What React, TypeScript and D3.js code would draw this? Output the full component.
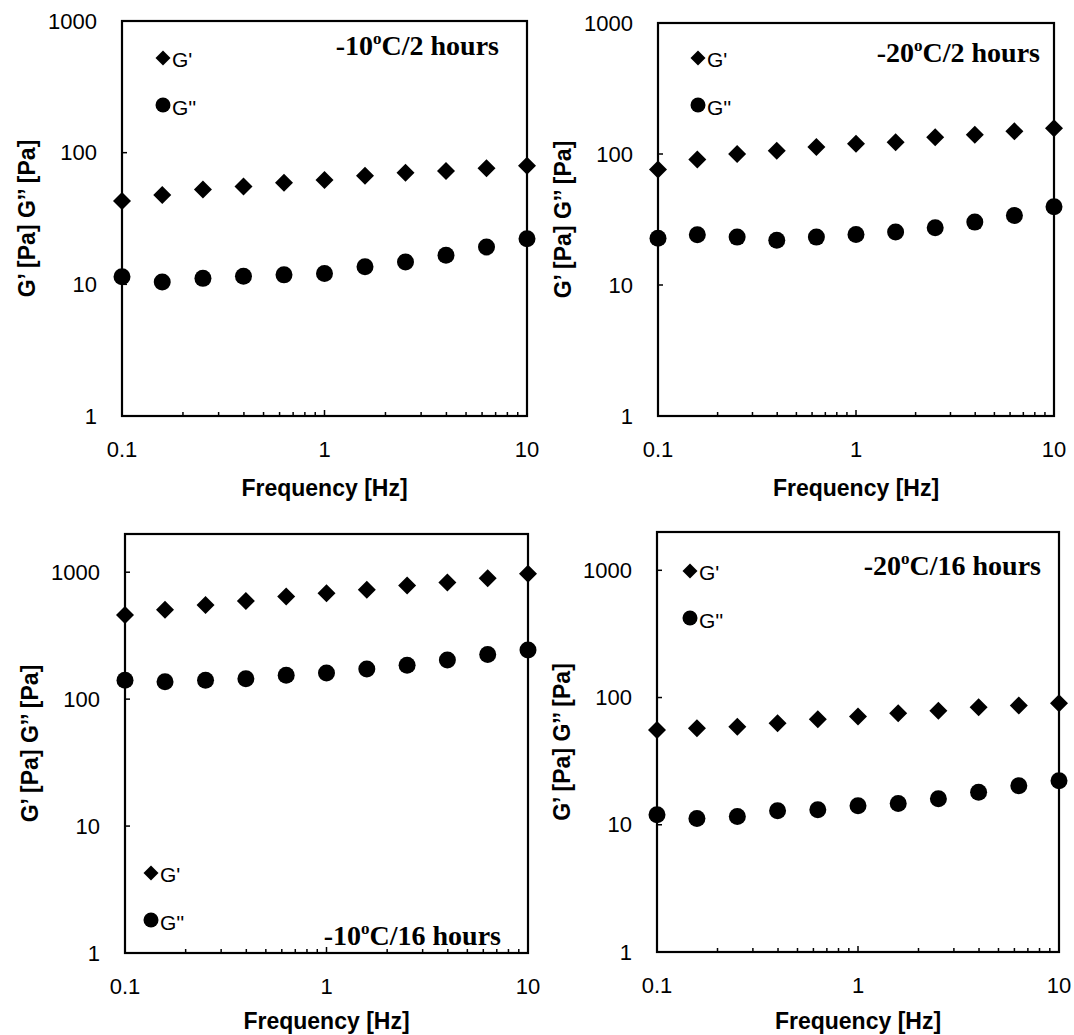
import { useEffect, useRef } from "react";
import * as d3 from "d3";

// Frequency sweep (Hz), five points per decade
const frequencies = [0.1, 0.158, 0.251, 0.398, 0.631, 1, 1.585, 2.512, 3.981, 6.31, 10];

// Storage modulus G' and loss modulus G'' (Pa) for each freezing condition
const gStorage10c2h = [43, 47.7, 52.4, 55.4, 59.1, 62, 66.8, 70.5, 72.6, 76, 79.6];
const gLoss10c2h = [11.4, 10.4, 11.1, 11.5, 11.8, 12.1, 13.6, 14.8, 16.6, 19.2, 22.2];
const gStorage20c2h = [76, 90.6, 100, 106, 113, 120, 123, 134, 140, 149, 157];
const gLoss20c2h = [22.7, 24.2, 23.2, 22.0, 23.2, 24.3, 25.4, 27.4, 30.2, 33.9, 39.5];
const gStorage10c16h = [460, 505, 552, 594, 643, 683, 726, 785, 829, 897, 971];
const gLoss10c16h = [141, 137, 141, 145, 154, 161, 173, 185, 203, 225, 244];
const gStorage20c16h = [55.6, 57.3, 59, 62.7, 67.5, 70.8, 75.2, 78.9, 83.9, 86.5, 90.2];
const gLoss20c16h = [12.0, 11.2, 11.6, 12.9, 13.1, 14.1, 14.7, 16.0, 18.0, 20.3, 22.2];

const temperatures = ["-10", "-20", "-10", "-20"];
const durations = ["2 hours", "2 hours", "16 hours", "16 hours"];
const yMaxima = [1000, 1000, 2000, 2000];

const xTickValues = [0.1, 1, 10];
const yTickValues = [1, 10, 100, 1000];

// Where each panel sits on the page (box edges, legend and note anchors)
const layout = [
  { left: 122, right: 527, top: 21, bottom: 416, legendX: 163, legendY: 58, noteX: 499, noteY: 55 },
  { left: 658, right: 1054, top: 23, bottom: 416, legendX: 698, legendY: 58, noteX: 1040, noteY: 62 },
  { left: 125, right: 528, top: 534, bottom: 953, legendX: 151, legendY: 873, noteX: 501, noteY: 945 },
  { left: 657, right: 1059, top: 532, bottom: 952, legendX: 690, legendY: 571, noteX: 1041, noteY: 575 },
];

const storageSeries = [gStorage10c2h, gStorage20c2h, gStorage10c16h, gStorage20c16h];
const lossSeries = [gLoss10c2h, gLoss20c2h, gLoss10c16h, gLoss20c16h];

const SANS = "'Liberation Sans', Arial, sans-serif";
const SERIF = "'Liberation Serif', 'Times New Roman', serif";

const diamond = (h: number) => `M0,${-h}L${h},0L0,${h}L${-h},0Z`;

export default function App() {
  const ref = useRef<SVGSVGElement | null>(null);

  useEffect(() => {
    if (!ref.current) return;
    const svg = d3.select(ref.current);
    svg.selectAll("*").remove();

    layout.forEach((box, i) => {
      const x = d3.scaleLog().domain([0.1, 10]).range([box.left, box.right]);
      const y = d3.scaleLog().domain([1, yMaxima[i]]).range([box.bottom, box.top]);
      const g = svg.append("g");

      // frame
      g.append("rect")
        .attr("x", box.left)
        .attr("y", box.top)
        .attr("width", box.right - box.left)
        .attr("height", box.bottom - box.top)
        .attr("fill", "none")
        .attr("stroke", "#000")
        .attr("stroke-width", 2.2);

      // x ticks, inside, pointing up
      const minor = x.ticks().filter((t) => !xTickValues.some((m) => Math.abs(m - t) < 1e-9));
      g.selectAll(".xminor")
        .data(minor)
        .enter()
        .append("line")
        .attr("x1", (d) => x(d))
        .attr("x2", (d) => x(d))
        .attr("y1", box.bottom)
        .attr("y2", box.bottom - 4)
        .attr("stroke", "#000")
        .attr("stroke-width", 1.5);
      g.selectAll(".xmajor")
        .data(xTickValues)
        .enter()
        .append("line")
        .attr("x1", (d) => x(d))
        .attr("x2", (d) => x(d))
        .attr("y1", box.bottom)
        .attr("y2", box.bottom - 6)
        .attr("stroke", "#000")
        .attr("stroke-width", 1.5);

      // y ticks, inside, pointing right
      g.selectAll(".ymajor")
        .data(yTickValues)
        .enter()
        .append("line")
        .attr("x1", box.left)
        .attr("x2", box.left + 5)
        .attr("y1", (d) => y(d))
        .attr("y2", (d) => y(d))
        .attr("stroke", "#000")
        .attr("stroke-width", 1.5);

      // tick labels
      g.selectAll(".xlabel")
        .data(xTickValues)
        .enter()
        .append("text")
        .attr("x", (d) => x(d))
        .attr("y", box.bottom + 41)
        .attr("text-anchor", "middle")
        .style("font-family", SANS)
        .style("font-size", "22px")
        .text((d) => String(d));
      g.selectAll(".ylabel")
        .data(yTickValues)
        .enter()
        .append("text")
        .attr("x", box.left - 25)
        .attr("y", (d) => y(d))
        .attr("dy", "0.35em")
        .attr("text-anchor", "end")
        .style("font-family", SANS)
        .style("font-size", "22px")
        .text((d) => String(d));

      // axis titles
      g.append("text")
        .attr("x", (box.left + box.right) / 2)
        .attr("y", Math.min(box.bottom + 80, 1029))
        .attr("text-anchor", "middle")
        .style("font-family", SANS)
        .style("font-size", "23px")
        .style("font-weight", "bold")
        .text("Frequency [Hz]");
      g.append("text")
        .attr("transform", `translate(${box.left - 87},${(box.top + box.bottom) / 2}) rotate(-90)`)
        .attr("text-anchor", "middle")
        .style("font-family", SANS)
        .style("font-size", "23px")
        .style("font-weight", "bold")
        .text("G\u2019 [Pa] G\u2019\u2019 [Pa]");

      // data markers
      g.selectAll(".loss")
        .data(lossSeries[i])
        .enter()
        .append("circle")
        .attr("cx", (_, j) => x(frequencies[j]))
        .attr("cy", (d) => y(d))
        .attr("r", 8.5)
        .attr("fill", "#000");
      g.selectAll(".storage")
        .data(storageSeries[i])
        .enter()
        .append("path")
        .attr("d", diamond(9))
        .attr("transform", (d, j) => `translate(${x(frequencies[j])},${y(d)})`)
        .attr("fill", "#000");

      // legend
      g.append("path")
        .attr("d", diamond(7.5))
        .attr("transform", `translate(${box.legendX},${box.legendY})`)
        .attr("fill", "#000");
      g.append("text")
        .attr("x", box.legendX + 9)
        .attr("y", box.legendY + 9)
        .style("font-family", SANS)
        .style("font-size", "21px")
        .text("G'");
      g.append("circle")
        .attr("cx", box.legendX)
        .attr("cy", box.legendY + 47)
        .attr("r", 7.5)
        .attr("fill", "#000");
      g.append("text")
        .attr("x", box.legendX + 9)
        .attr("y", box.legendY + 57)
        .style("font-family", SANS)
        .style("font-size", "21px")
        .text("G''");

      // condition note
      const note = g.append("text")
        .attr("x", box.noteX)
        .attr("y", box.noteY)
        .attr("text-anchor", "end")
        .style("font-family", SERIF)
        .style("font-size", "28px")
        .style("font-weight", "bold");
      note.append("tspan").text(temperatures[i]);
      note.append("tspan").attr("dy", -11).style("font-size", "17px").text("o");
      note.append("tspan").attr("dy", 11).text(`C/${durations[i]}`);
    });
  }, []);

  return (
    <svg
      ref={ref}
      width={1074}
      height={1035}
      style={{ position: "absolute", left: 0, top: 0, background: "#fff" }}
    />
  );
}
